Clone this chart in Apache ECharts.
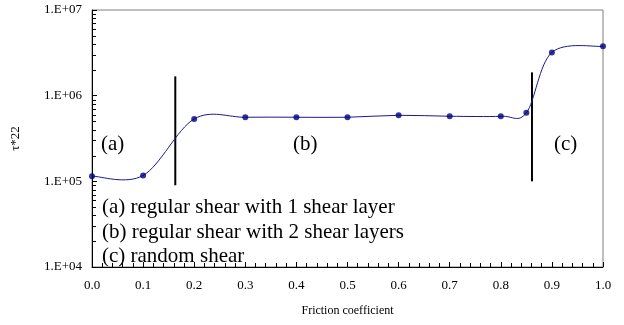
<!DOCTYPE html>
<html>
<head>
<meta charset="utf-8">
<script src="https://cdn.jsdelivr.net/npm/echarts@6/dist/echarts.min.js"></script>
<style>
  html, body { margin: 0; padding: 0; background: #fff; }
  #chart { width: 624px; height: 325px; }
</style>
</head>
<body>
<div id="chart"></div>
<script>
// Shear stress tau*22 versus friction coefficient (log scale)
const friction = [0.0, 0.1, 0.2, 0.3, 0.4, 0.5, 0.6, 0.7, 0.8, 0.85, 0.9, 1.0];
const tau22 = [1.15e5, 1.17e5, 5.35e5, 5.6e5, 5.6e5, 5.6e5, 5.9e5, 5.75e5, 5.75e5, 6.3e5, 3.2e6, 3.77e6];

// Regime boundaries (vertical separators)
const boundaryA = [[0.163, 9.0e4], [0.163, 1.68e6]];
const boundaryB = [[0.861, 1.0e5], [0.861, 1.87e6]];

// Log-axis minor ticks (2..9 within each decade)
const yMinorTicks = [
  2e4, 3e4, 4e4, 5e4, 6e4, 7e4, 8e4, 9e4,
  2e5, 3e5, 4e5, 5e5, 6e5, 7e5, 8e5, 9e5,
  2e6, 3e6, 4e6, 5e6, 6e6, 7e6, 8e6, 9e6
];

const regimeTags = ['(a)', '(b)', '(c)'];
const legendLines = [
  '(a) regular shear with 1 shear layer',
  '(b) regular shear with 2 shear layers',
  '(c) random shear'
];

const serif = '"Liberation Serif", "Times New Roman", serif';
const chart = echarts.init(document.getElementById('chart'), null, { renderer: 'canvas' });

const points = friction.map((x, i) => [x, tau22[i]]);

// Smooth curve: cubic Bezier segments with Catmull-Rom style control points (1/6 tension),
// evaluated in pixel space after the axes have mapped each point.
function renderSegment(params, api) {
  const i = params.dataIndex;
  const n = points.length;
  if (i >= n - 1) return null;
  const P = j => api.coord(points[Math.max(0, Math.min(n - 1, j))]);
  const p0 = P(i - 1), p1 = P(i), p2 = P(i + 1), p3 = P(i + 2);
  return {
    type: 'bezierCurve',
    shape: {
      x1: p1[0], y1: p1[1],
      x2: p2[0], y2: p2[1],
      cpx1: p1[0] + (p2[0] - p0[0]) / 6, cpy1: p1[1] + (p2[1] - p0[1]) / 6,
      cpx2: p2[0] - (p3[0] - p1[0]) / 6, cpy2: p2[1] - (p3[1] - p1[1]) / 6
    },
    style: { stroke: '#1a1a90', lineWidth: 1, fill: null }
  };
}

// Short inward tick at each minor log value on the y axis
function renderMinorTick(params, api) {
  const p = api.coord([api.value(0), api.value(1)]);
  return {
    type: 'rect',
    shape: { x: Math.round(p[0]), y: Math.round(p[1]), width: 4, height: 1 },
    style: { fill: '#000' }
  };
}

chart.setOption({
  animation: false,
  backgroundColor: '#fff',
  grid: {
    left: 92, right: 21, top: 10, bottom: 58,
    show: true, borderColor: '#808080', borderWidth: 1
  },
  xAxis: {
    type: 'value', min: 0, max: 1, interval: 0.1,
    name: 'Friction coefficient', nameLocation: 'middle', nameGap: 38,
    nameTextStyle: { fontFamily: serif, fontSize: 12, color: '#000' },
    axisLine: { show: true, lineStyle: { color: '#000', width: 1 } },
    axisTick: { show: true, inside: true, length: 5, lineStyle: { color: '#000' } },
    minorTick: { show: true, splitNumber: 5, length: 4, lineStyle: { color: '#000' } },
    splitLine: { show: false },
    axisLabel: {
      margin: 12, fontFamily: serif, fontSize: 13, color: '#000',
      formatter: v => v.toFixed(1)
    }
  },
  yAxis: {
    type: 'log', logBase: 10, min: 1e4, max: 1e7,
    name: 'τ*22', nameLocation: 'middle', nameGap: 70, nameRotate: 90,
    nameTextStyle: { fontFamily: serif, fontSize: 13, color: '#000' },
    axisLine: { show: true, lineStyle: { color: '#000', width: 1 } },
    axisTick: { show: true, inside: true, length: 5, lineStyle: { color: '#000' } },
    splitLine: { show: false },
    axisLabel: {
      margin: 10, fontFamily: serif, fontSize: 13, color: '#000',
      formatter: v => '1.E+' + String(Math.round(Math.log10(v))).padStart(2, '0')
    }
  },
  series: [
    {
      type: 'custom',
      data: yMinorTicks.map(v => [0, v]),
      renderItem: renderMinorTick,
      clip: false,
      silent: true,
      z: 5
    },
    {
      type: 'line',
      data: boundaryA,
      symbol: 'none',
      lineStyle: { color: '#000', width: 2 },
      silent: true, z: 3
    },
    {
      type: 'line',
      data: boundaryB,
      symbol: 'none',
      lineStyle: { color: '#000', width: 2 },
      silent: true, z: 3
    },
    {
      type: 'custom',
      data: points,
      renderItem: renderSegment,
      silent: true,
      z: 4
    },
    {
      type: 'scatter',
      data: points,
      symbol: 'circle',
      symbolSize: 6,
      itemStyle: { color: '#000080' },
      z: 6
    }
  ],
  graphic: [
    { type: 'text', left: 101, top: 134, style: { text: regimeTags[0], font: '21px ' + serif, fill: '#000' } },
    { type: 'text', left: 293, top: 134, style: { text: regimeTags[1], font: '21px ' + serif, fill: '#000' } },
    { type: 'text', left: 554, top: 134, style: { text: regimeTags[2], font: '21px ' + serif, fill: '#000' } },
    { type: 'text', left: 102, top: 197, style: { text: legendLines[0], font: '21px ' + serif, fill: '#000' } },
    { type: 'text', left: 102, top: 222, style: { text: legendLines[1], font: '21px ' + serif, fill: '#000' } },
    { type: 'text', left: 102, top: 246, style: { text: legendLines[2], font: '21px ' + serif, fill: '#000' } }
  ]
});
</script>
</body>
</html>
